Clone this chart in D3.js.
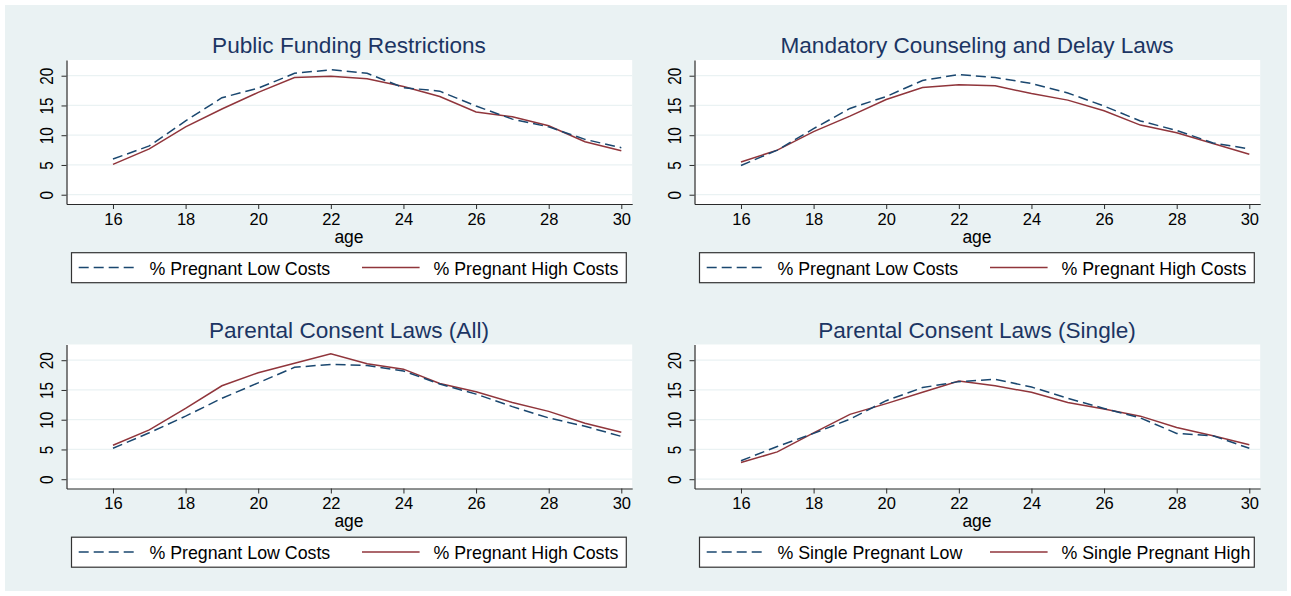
<!DOCTYPE html>
<html>
<head>
<meta charset="utf-8" />
<title>Pregnancy rates by age</title>
<style>
  body { margin: 0; background: #ffffff; }
  svg { display: block; font-family: "Liberation Sans", Arial, sans-serif; }
</style>
</head>
<body>
<svg width=1291 height=596></svg>

<script src="https://cdn.jsdelivr.net/npm/d3@7"></script>
<script>
// ages on the x axis
var ages = [16, 17, 18, 19, 20, 21, 22, 23, 24, 25, 26, 27, 28, 29, 30];
var xTicks = [16, 18, 20, 22, 24, 26, 28, 30];
var yTicks = [0, 5, 10, 15, 20];

var titles = ['Public Funding Restrictions', 'Mandatory Counseling and Delay Laws',
              'Parental Consent Laws (All)', 'Parental Consent Laws (Single)'];
var lowLabels = ['% Pregnant Low Costs', '% Pregnant Low Costs', '% Pregnant Low Costs', '% Single Pregnant Low'];
var highLabels = ['% Pregnant High Costs', '% Pregnant High Costs', '% Pregnant High Costs', '% Single Pregnant High'];

// values
var fundingLow  = [6.0, 8.2, 12.4, 16.3, 17.9, 20.4, 21.0, 20.4, 18.0, 17.4, 14.9, 12.7, 11.4, 9.3, 7.9];
var fundingHigh = [5.1, 7.7, 11.4, 14.4, 17.2, 19.7, 19.9, 19.5, 18.2, 16.5, 13.9, 13.1, 11.6, 8.9, 7.4];
var counselLow  = [4.9, 7.5, 11.1, 14.5, 16.5, 19.2, 20.2, 19.7, 18.7, 17.1, 14.9, 12.4, 10.8, 8.7, 7.7];
var counselHigh = [5.5, 7.5, 10.6, 13.2, 16.0, 18.0, 18.5, 18.3, 17.0, 15.9, 14.1, 11.7, 10.4, 8.6, 6.8];
var consentLow  = [5.2, 7.8, 10.6, 13.6, 16.2, 18.8, 19.3, 19.1, 18.2, 16.0, 14.3, 12.2, 10.3, 8.9, 7.2];
var consentHigh = [5.7, 8.3, 11.9, 15.7, 17.9, 19.5, 21.1, 19.4, 18.5, 16.1, 14.7, 12.9, 11.4, 9.4, 7.9];
var singleLow   = [3.1, 5.5, 7.7, 10.1, 13.2, 15.4, 16.4, 16.8, 15.5, 13.6, 11.9, 10.3, 7.7, 7.3, 5.2];
var singleHigh  = [2.8, 4.6, 7.8, 10.9, 12.7, 14.6, 16.5, 15.7, 14.6, 12.9, 11.8, 10.6, 8.7, 7.3, 5.8];

var lows = [fundingLow, counselLow, consentLow, singleLow];
var highs = [fundingHigh, counselHigh, consentHigh, singleHigh];

var bg = '#eaf2f3', navy = '#1a476f', maroon = '#90353b', titleColor = '#1c3563', axisColor = '#2a2a2a';

var svg = d3.select('svg');

svg.append('rect')
    .attr('x', 5).attr('y', 5)
    .attr('width', 1282).attr('height', 586)
    .attr('fill', bg);

var x = d3.scaleLinear().domain([14.72, 30.3]).range([66.5, 632.2]);
var y = d3.scaleLinear().domain([-1.56, 22.64]).range([204, 60]);

titles.forEach(function (title, i) {
    var ox = (i % 2) * 628;
    var oy = Math.floor(i / 2) * 284.5;
    var g = svg.append('g').attr('transform', 'translate(' + ox + ',' + oy + ')');

    // white plot region
    g.append('rect')
        .attr('x', x.range()[0]).attr('y', y.range()[1])
        .attr('width', x.range()[1] - x.range()[0])
        .attr('height', y.range()[0] - y.range()[1])
        .attr('fill', '#ffffff');

    g.selectAll('.grid')
        .data(yTicks)
        .enter()
        .append('line')
        .attr('x1', x.range()[0]).attr('x2', x.range()[1])
        .attr('y1', function (d) { return y(d); })
        .attr('y2', function (d) { return y(d); })
        .attr('stroke', bg)
        .attr('stroke-width', 1.3);

    g.append('text')
        .attr('x', 349).attr('y', 53)
        .attr('text-anchor', 'middle')
        .attr('font-size', 22.6)
        .attr('fill', titleColor)
        .text(title);

    var line = d3.line()
        .x(function (d, k) { return x(ages[k]); })
        .y(function (d) { return y(d); });

    g.append('path')
        .attr('d', line(highs[i]))
        .attr('fill', 'none')
        .attr('stroke', maroon)
        .attr('stroke-width', 1.5);

    g.append('path')
        .attr('d', line(lows[i]))
        .attr('fill', 'none')
        .attr('stroke', navy)
        .attr('stroke-width', 1.5)
        .attr('stroke-dasharray', '10,5');

    var xAxis = g.append('g')
        .attr('transform', 'translate(0,' + y.range()[0] + ')')
        .call(d3.axisBottom(x).tickValues(xTicks).tickSize(5).tickSizeOuter(0).tickPadding(4));
    xAxis.selectAll('text').attr('font-size', 16.5).attr('fill', '#000').attr('font-family', null);

    var yAxis = g.append('g')
        .attr('transform', 'translate(' + x.range()[0] + ',0)')
        .call(d3.axisLeft(y).tickValues(yTicks).tickSize(5).tickSizeOuter(0));
    yAxis.selectAll('text')
        .attr('x', null).attr('dy', null)
        .attr('text-anchor', 'middle')
        .attr('dominant-baseline', 'central')
        .attr('transform', 'translate(-19.5,0) rotate(-90) scale(0.85,1)')
        .attr('font-size', 18).attr('fill', '#000').attr('font-family', null);

    [xAxis, yAxis].forEach(function (a) {
        a.select('.domain').attr('stroke', axisColor).attr('stroke-width', 1.2);
        a.selectAll('.tick line').attr('stroke', axisColor);
    });

    g.append('text')
        .attr('x', 349).attr('y', 242.5)
        .attr('text-anchor', 'middle')
        .attr('font-size', 17.5)
        .text('age');

    // legend
    g.append('rect')
        .attr('x', 71.5).attr('y', 252.7)
        .attr('width', 554.8).attr('height', 30)
        .attr('fill', '#ffffff')
        .attr('stroke', '#333')
        .attr('stroke-width', 1.2);

    g.append('line')
        .attr('x1', 78.7).attr('x2', 136).attr('y1', 267.5).attr('y2', 267.5)
        .attr('stroke', navy).attr('stroke-width', 1.5)
        .attr('stroke-dasharray', '10,5');
    g.append('text')
        .attr('x', 149.4).attr('y', 274.5)
        .attr('font-size', 17.8)
        .text(lowLabels[i]);

    g.append('line')
        .attr('x1', 362).attr('x2', 419.6).attr('y1', 267.5).attr('y2', 267.5)
        .attr('stroke', maroon).attr('stroke-width', 1.5);
    g.append('text')
        .attr('x', 433.5).attr('y', 274.5)
        .attr('font-size', 17.8)
        .text(highLabels[i]);
});
</script>
</body>
</html>
